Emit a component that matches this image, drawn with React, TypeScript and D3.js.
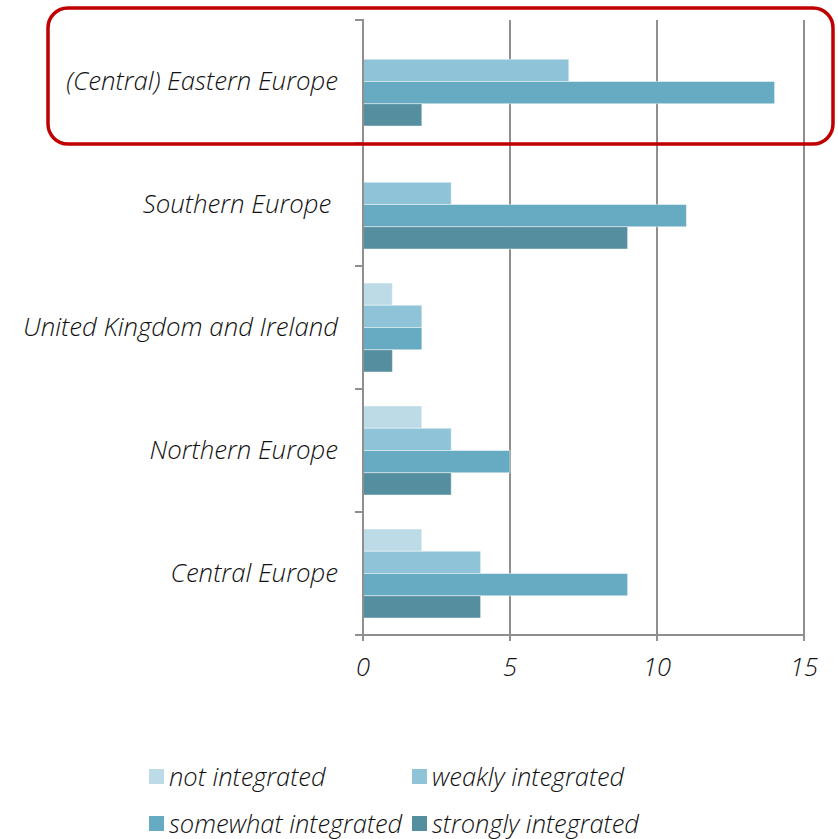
import { scaleBand, scaleLinear } from "d3";

const regions = [
  "(Central) Eastern Europe",
  "Southern Europe ",
  "United Kingdom and Ireland",
  "Northern Europe",
  "Central Europe"
];
const seriesNames = [
  "not integrated",
  "weakly integrated",
  "somewhat integrated",
  "strongly integrated"
];
const notIntegrated = [0, 0, 1, 2, 2];
const weaklyIntegrated = [7, 3, 2, 3, 4];
const somewhatIntegrated = [14, 11, 2, 5, 9];
const stronglyIntegrated = [2, 9, 1, 3, 4];
const xTicks = [0, 5, 10, 15];

const seriesValues = [notIntegrated, weaklyIntegrated, somewhatIntegrated, stronglyIntegrated];
const seriesColors = ["#bddbe6", "#8fc3d7", "#67abc3", "#548e9f"];

const width = 838;
const height = 839;
const plotLeft = 363;
const plotRight = 804;
const plotTop = 20;
const plotBottom = 635;
const axisColor = "#8f8f8f";
const font = "'Open Sans', 'Noto Sans', sans-serif";

export default function App() {
  const x = scaleLinear().domain([0, 15]).range([plotLeft, plotRight]);
  const y = scaleBand<string>()
    .domain(regions)
    .range([plotTop, plotBottom])
    .padding(0);
  const inner = scaleBand<number>()
    .domain(seriesNames.map((_, i) => i))
    .range([0, y.bandwidth()])
    .paddingInner(0)
    .paddingOuter(0.764);

  const boundaries = regions.map((r) => y(r) ?? 0).concat([plotBottom]);

  return (
    <svg
      width={width}
      height={height}
      style={{ position: "absolute", left: 0, top: 0 }}
      fontFamily={font}
      fontStyle="italic"
      fontWeight={350}
    >
      {/* gridlines */}
      {xTicks.slice(1).map((t) => (
        <line
          key={`grid-${t}`}
          x1={x(t)}
          x2={x(t)}
          y1={plotTop}
          y2={plotBottom}
          stroke={axisColor}
          strokeWidth={2}
        />
      ))}

      {/* bars */}
      {regions.map((region, ri) => (
        <g key={region} transform={`translate(0, ${y(region)})`}>
          {seriesValues.map((vals, si) =>
            vals[ri] > 0 ? (
              <rect
                key={si}
                x={x(0)}
                y={inner(si)}
                width={x(vals[ri]) - x(0)}
                height={inner.bandwidth()}
                fill={seriesColors[si]}
                stroke="rgba(255,255,255,0.45)"
                strokeWidth={1}
              />
            ) : null
          )}
        </g>
      ))}

      {/* y axis */}
      <line x1={plotLeft} x2={plotLeft} y1={plotTop - 1} y2={plotBottom + 6} stroke={axisColor} strokeWidth={2} />
      {boundaries.map((b, i) => (
        <line key={`yt-${i}`} x1={plotLeft - 8} x2={plotLeft} y1={b} y2={b} stroke={axisColor} strokeWidth={2} />
      ))}

      {/* x axis */}
      <line x1={plotLeft - 8} x2={plotRight} y1={plotBottom} y2={plotBottom} stroke={axisColor} strokeWidth={2} />
      {xTicks.map((t) => (
        <g key={`xt-${t}`}>
          <line x1={x(t)} x2={x(t)} y1={plotBottom} y2={plotBottom + 6} stroke={axisColor} strokeWidth={2} />
          <text x={x(t)} y={676} textAnchor="middle" fontSize={25.5} fill="#111">
            {t}
          </text>
        </g>
      ))}

      {/* category labels */}
      {regions.map((region) => (
        <text
          key={`lbl-${region}`}
          x={338}
          y={(y(region) ?? 0) + y.bandwidth() / 2 - 2}
          textAnchor="end"
          dominantBaseline="central"
          fontSize={25.8}
          fill="#111"
          style={{ whiteSpace: "pre" }}
        >
          {region}
        </text>
      ))}

      {/* highlight */}
      <rect x={48} y={8} width={785} height={136} rx={20} ry={20} fill="none" stroke="#c00000" strokeWidth={3.5} />

      {/* legend */}
      {seriesNames.map((name, i) => {
        const col = i % 2;
        const row = Math.floor(i / 2);
        const lx = col === 0 ? 149 : 412;
        const ly = row === 0 ? 776 : 823;
        return (
          <g key={name}>
            <rect x={lx} y={ly - 7} width={15} height={15} fill={seriesColors[i]} />
            <text x={lx + 20} y={ly} dominantBaseline="central" fontSize={25.5} fill="#111">
              {name}
            </text>
          </g>
        );
      })}
    </svg>
  );
}
